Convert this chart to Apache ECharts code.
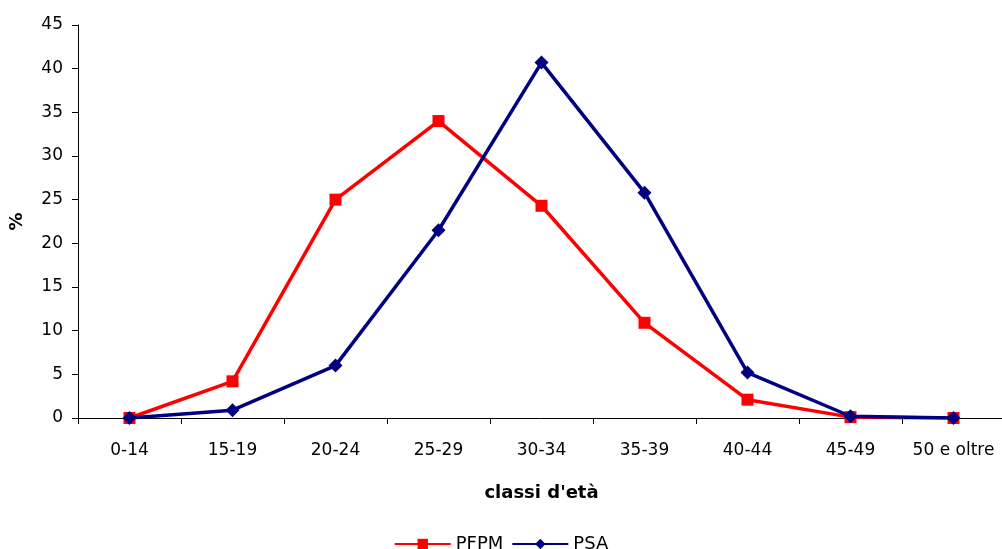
<!DOCTYPE html>
<html>
<head>
<meta charset="utf-8">
<script src="https://cdn.jsdelivr.net/npm/echarts@6/dist/echarts.min.js"></script>
<style>
  html, body { margin: 0; padding: 0; background: #fff; }
  #chart { width: 1002px; height: 549px; }
</style>
</head>
<body>
<div id="chart"></div>
<script>
// Age classes and percentage distribution for each group
const categories = ['0-14', '15-19', '20-24', '25-29', '30-34', '35-39', '40-44', '45-49', '50 e oltre'];
const pfpm = [0, 4.2, 25.0, 34.0, 24.3, 10.9, 2.1, 0.1, 0];
const psa = [0, 0.9, 6.0, 21.5, 40.7, 25.8, 5.2, 0.2, 0];

const font = '"DejaVu Sans", Arial, sans-serif';
const chart = echarts.init(document.getElementById('chart'));
chart.setOption({
  animation: false,
  textStyle: { fontFamily: font },
  grid: { left: 78, right: -3, top: 25, bottom: 131, containLabel: false, outerBoundsMode: 'none' },
  legend: {
    top: 530,
    left: 'center',
    itemWidth: 56,
    itemHeight: 13,
    itemGap: 8,
    textStyle: { fontFamily: font, fontSize: 18, color: '#000' },
    data: ['PFPM', 'PSA']
  },
  xAxis: {
    type: 'category',
    data: categories,
    boundaryGap: true,
    name: "classi d'età",
    nameLocation: 'middle',
    nameGap: 66,
    nameTextStyle: { fontFamily: font, fontSize: 18, fontWeight: 'bold', color: '#000' },
    axisLine: { lineStyle: { color: '#000', width: 1 } },
    axisTick: { show: true, length: 6, interval: 0, lineStyle: { color: '#000' } },
    axisLabel: { fontFamily: font, fontSize: 17, color: '#000', margin: 24, interval: 0 },
    splitLine: { show: false }
  },
  yAxis: {
    type: 'value',
    min: 0,
    max: 45,
    interval: 5,
    name: '%',
    nameLocation: 'middle',
    nameRotate: 90,
    nameGap: 52,
    nameTextStyle: { fontFamily: font, fontSize: 18, fontWeight: 'bold', color: '#000' },
    axisLine: { show: true, lineStyle: { color: '#000', width: 1 } },
    axisTick: { show: true, length: 6, lineStyle: { color: '#000' } },
    axisLabel: { fontFamily: font, fontSize: 17, color: '#000', margin: 15 },
    splitLine: { show: false }
  },
  series: [
    {
      name: 'PFPM',
      type: 'line',
      data: pfpm,
      symbol: 'rect',
      symbolSize: 12,
      lineStyle: { color: '#ff0000', width: 3.5 },
      itemStyle: { color: '#ff0000' },
      z: 2
    },
    {
      name: 'PSA',
      type: 'line',
      data: psa,
      symbol: 'diamond',
      symbolSize: 14,
      lineStyle: { color: '#000080', width: 3.5 },
      itemStyle: { color: '#000080' },
      z: 3
    }
  ]
});
</script>
</body>
</html>
